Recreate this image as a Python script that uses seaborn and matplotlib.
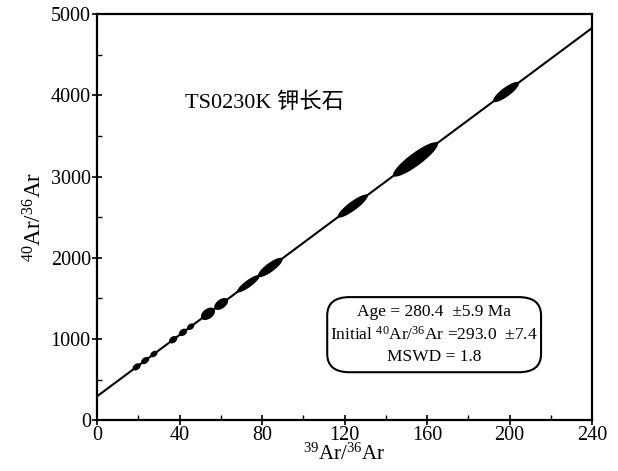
import numpy as np
import pandas as pd
import matplotlib
matplotlib.use("Agg")
import matplotlib.pyplot as plt
import seaborn as sns
from matplotlib.patches import FancyBboxPatch
from matplotlib.ticker import MultipleLocator

# ---- data ----
x_center = [19.2, 23.3, 27.6, 36.9, 41.7, 45.4, 53.8, 60.2, 73.4, 84.0, 124.0, 154.4, 198.3]
sigma_x = [1.96, 1.96, 1.76, 1.98, 1.98, 1.76, 3.43, 3.38, 5.5, 6.0, 7.3, 10.9, 6.3]
sigma_y = [44.4, 44.4, 40.4, 45.7, 45.7, 40.4, 76.8, 73.7, 107.0, 119.0, 142.5, 212.0, 124.4]
rho_xy = [0.37, 0.37, 0.33, 0.32, 0.32, 0.33, 0.42, 0.50, 0.87, 0.83, 0.88, 0.89, 0.84]
intercept = 293.0
slope = 18.9
line_x = [0, 240]
x_ticks = [0, 40, 80, 120, 160, 200, 240]
y_ticks = [0, 1000, 2000, 3000, 4000, 5000]
sample_label = "TS0230K 钾长石"
box_lines = ["Age = 280.4  ±5.9 Ma",
             "Initial $^{40}$Ar/$^{36}$Ar =293.0  ±7.4",
             "MSWD = 1.8"]

sns.set_theme(style="ticks")
plt.rcParams["font.family"] = ["Liberation Serif", "Noto Sans CJK SC"]
plt.rcParams["mathtext.fontset"] = "custom"
plt.rcParams["mathtext.rm"] = "Liberation Serif"
plt.rcParams["mathtext.it"] = "Liberation Serif"
plt.rcParams["mathtext.bf"] = "Liberation Serif"
plt.rcParams["text.color"] = "black"
plt.rcParams["axes.labelcolor"] = "black"

fig = plt.figure(figsize=(6.18, 4.71), dpi=100)
ax = fig.add_axes([0.157, 0.108, 0.801, 0.862])

df_line = pd.DataFrame({"x": line_x, "y": [intercept + slope * v for v in line_x]})
sns.lineplot(data=df_line, x="x", y="y", color="black", linewidth=1.5, ax=ax)

t = np.linspace(0, 2 * np.pi, 200)
for cx, sx, sy, r in zip(x_center, sigma_x, sigma_y, rho_xy):
    cy = intercept + slope * cx
    ex = cx + sx * np.cos(t)
    ey = cy + sy * (r * np.cos(t) + np.sqrt(1 - r ** 2) * np.sin(t))
    ax.fill(ex, ey, color="black", linewidth=0)

ax.set_xlim(0, 240)
ax.set_ylim(0, 5000)
ax.set_xticks(x_ticks)
ax.set_yticks(y_ticks)
ax.xaxis.set_minor_locator(MultipleLocator(20))
ax.yaxis.set_minor_locator(MultipleLocator(500))
ax.tick_params(which="major", direction="inout", length=7, width=1.2, labelsize=14.5,
               colors="black", labelcolor="black", pad=1)
ax.tick_params(which="minor", direction="in", length=3.5, width=1.0, colors="black")
for sp in ax.spines.values():
    sp.set_linewidth(1.6)
    sp.set_color("black")

ax.set_xlabel("$^{39}$Ar/$^{36}$Ar", fontsize=15, labelpad=-1, color="black")
ax.set_ylabel("$^{40}$Ar/$^{36}$Ar", fontsize=16.5, labelpad=3, color="black")

ax.text(42.5, 3915, sample_label, fontsize=16, ha="left", va="center", color="black",
        family=["Liberation Serif", "Noto Sans CJK SC"])

box = FancyBboxPatch((0.465, 0.118), 0.432, 0.185, transform=ax.transAxes,
                     boxstyle="round,pad=0,rounding_size=0.045", facecolor="white",
                     edgecolor="black", linewidth=1.5)
ax.add_patch(box)
for i, s in enumerate(box_lines):
    ax.text(0.681, 0.266 - i * 0.0555, s, transform=ax.transAxes, fontsize=12.5,
            ha="center", va="center", color="black")

fig.savefig("out.png", dpi=100)
